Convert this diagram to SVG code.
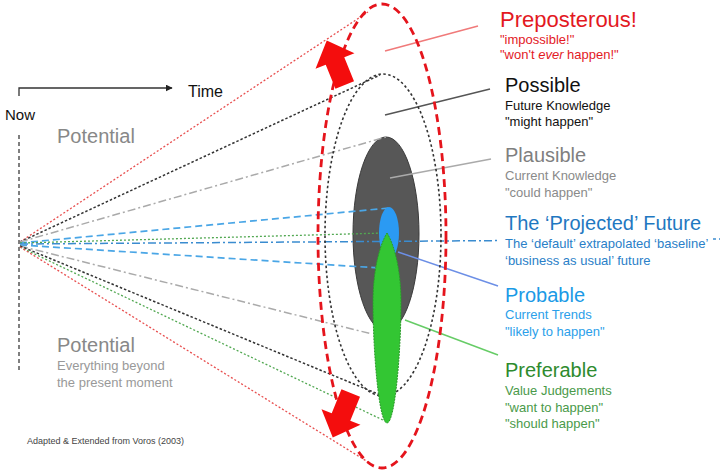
<svg xmlns="http://www.w3.org/2000/svg" width="720" height="473" viewBox="0 0 720 473">
<style>
text{font-family:"Liberation Sans",Arial,sans-serif}
.t{font-size:20px}
.s{font-size:13px}
.ln{fill:none;stroke-width:1.3}
.dotR{stroke:#e85050;stroke-dasharray:2 2}
.dotK{stroke:#333;stroke-dasharray:2.5 2;stroke-width:1.5}
.dashdotG{stroke:#aaa;stroke-dasharray:8 3 2 3;stroke-width:1.5}
.dashB{stroke:#4aa6e6;stroke-dasharray:7 4;stroke-width:1.7}
.dotGr{stroke:#52a852;stroke-dasharray:2 2}
.dashdotB{stroke:#3a8cd0;stroke-dasharray:8 3 2 3;stroke-width:1.5}
.ptr{stroke-width:1.5;fill:none}
.arrowR{fill:#f40d0d}
</style>
<defs>
<marker id="ah" viewBox="0 0 10 10" refX="9" refY="5" markerWidth="7" markerHeight="7" orient="auto" markerUnits="userSpaceOnUse">
<path d="M0,0 L10,5 L0,10 z" fill="#222"/>
</marker>
<polygon id="blk" points="0,-22 21,0 10,0 10,26 -10,26 -10,0 -21,0"/>
</defs>
<rect width="720" height="473" fill="#fff"/>

<g id="now-axis">
<path d="M19,96 V88 H172" fill="none" stroke="#333" stroke-width="1.3" marker-end="url(#ah)"/>
<text x="188" y="97" font-size="16" fill="#111">Time</text>
<text x="5" y="120" font-size="15" fill="#111">Now</text>
<line x1="19" y1="135" x2="19" y2="370" stroke="#555" stroke-width="1.5" stroke-dasharray="4 3"/>
</g>

<g id="potential">
<text x="57" y="143" font-size="20" fill="#888">Potential</text>
<text x="57" y="352" font-size="20" fill="#888">Potential</text>
<text x="57" y="370" class="s" fill="#999">Everything beyond</text>
<text x="57" y="387" class="s" fill="#999">the present moment</text>
<text x="27" y="444" font-size="9" fill="#444">Adapted &amp; Extended from Voros (2003)</text>
</g>

<g id="plausible-shape">
<ellipse cx="386" cy="234" rx="33" ry="97" fill="#575757" stroke="#3a3a3a" stroke-width="1"/>
</g>

<g id="connectors">
<line class="ln dotR" x1="20" y1="242" x2="368" y2="12"/>
<line class="ln dotK" x1="20" y1="242" x2="380" y2="75"/>
<line class="ln dashdotG" x1="20" y1="242" x2="386" y2="137"/>
<line class="ln dashB" x1="20" y1="243" x2="389" y2="208"/>
<line class="ln dotGr" x1="20" y1="243" x2="385" y2="233"/>
<line class="ln dashdotB" x1="20" y1="244" x2="720" y2="239"/>
<line class="ln dashB" x1="20" y1="245" x2="380" y2="268"/>
<line class="ln dashdotG" x1="20" y1="246" x2="372" y2="334"/>
<line class="ln dotK" x1="20" y1="246" x2="383" y2="396"/>
<line class="ln dotGr" x1="20" y1="247" x2="385" y2="421"/>
<line class="ln dotR" x1="20" y1="247" x2="368" y2="462"/>
<line class="ptr" x1="385" y1="51" x2="478" y2="26" stroke="#f07a7a"/>
<line class="ptr" x1="385" y1="115" x2="490" y2="89" stroke="#555"/>
<line class="ptr" x1="390" y1="178" x2="491" y2="159" stroke="#aaa"/>
<line class="ptr" x1="398" y1="252" x2="498" y2="286" stroke="#6c8fe6"/>
<line class="ptr" x1="405" y1="320" x2="498" y2="355" stroke="#66cc66"/>
</g>

<g id="preposterous">
<ellipse cx="382" cy="236" rx="64" ry="232" fill="none" stroke="#e5141c" stroke-width="2.8" stroke-dasharray="8 5"/>
<use href="#blk" class="arrowR" transform="translate(335,61) rotate(-22)"/>
<use href="#blk" class="arrowR" transform="translate(341,417) rotate(202)"/>
<text x="500" y="27" font-size="22" fill="#e3191f">Preposterous!</text>
<text x="500" y="44" class="s" fill="#e3191f">"impossible!"</text>
<text x="500" y="59" class="s" fill="#e3191f">"won't <tspan font-style="italic">ever</tspan> happen!"</text>
</g>

<g id="possible">
<ellipse cx="383" cy="235" rx="58" ry="161" fill="none" stroke="#333" stroke-width="1.6" stroke-dasharray="2.5 2.5"/>
<text x="505" y="92" class="t" fill="#111">Possible</text>
<text x="505" y="110" class="s" fill="#111">Future Knowledge</text>
<text x="505" y="126" class="s" fill="#111">"might happen"</text>
</g>

<g id="plausible">
<text x="505" y="162" class="t" fill="#7f7f7f">Plausible</text>
<text x="505" y="180" class="s" fill="#8a8a8a">Current Knowledge</text>
<text x="505" y="197" class="s" fill="#8a8a8a">"could happen"</text>
</g>

<g id="projected">
<ellipse cx="389" cy="233" rx="10" ry="26" fill="#2b9af3"/>
<rect x="499" y="236" width="214" height="33" fill="#fff"/>
<text x="505" y="230" class="t" fill="#1f78c1">The ‘Projected’ Future</text>
<text x="505" y="248" class="s" fill="#2a80c8">The ‘default’ extrapolated ‘baseline’</text>
<text x="505" y="265" class="s" fill="#2a80c8">‘business as usual’ future</text>
</g>

<g id="preferable">
<path d="M387,233 C395,246 401,272 401,302 C401,352 395,423 387,423 C379,423 373,352 373,302 C373,272 379,246 387,233 Z" fill="#33c633" stroke="#2a9a2a" stroke-width="1" stroke-dasharray="2 1"/>
<text x="505" y="377" class="t" fill="#2e8b2e">Preferable</text>
<text x="505" y="395" class="s" fill="#4a9a4a">Value Judgements</text>
<text x="505" y="412" class="s" fill="#4a9a4a">"want to happen"</text>
<text x="505" y="428" class="s" fill="#4a9a4a">"should happen"</text>
</g>

<g id="probable">
<text x="505" y="302" class="t" fill="#1a9ae6">Probable</text>
<text x="505" y="319" class="s" fill="#2ba0ea">Current Trends</text>
<text x="505" y="336" class="s" fill="#2ba0ea">"likely to happen"</text>
</g>
</svg>
